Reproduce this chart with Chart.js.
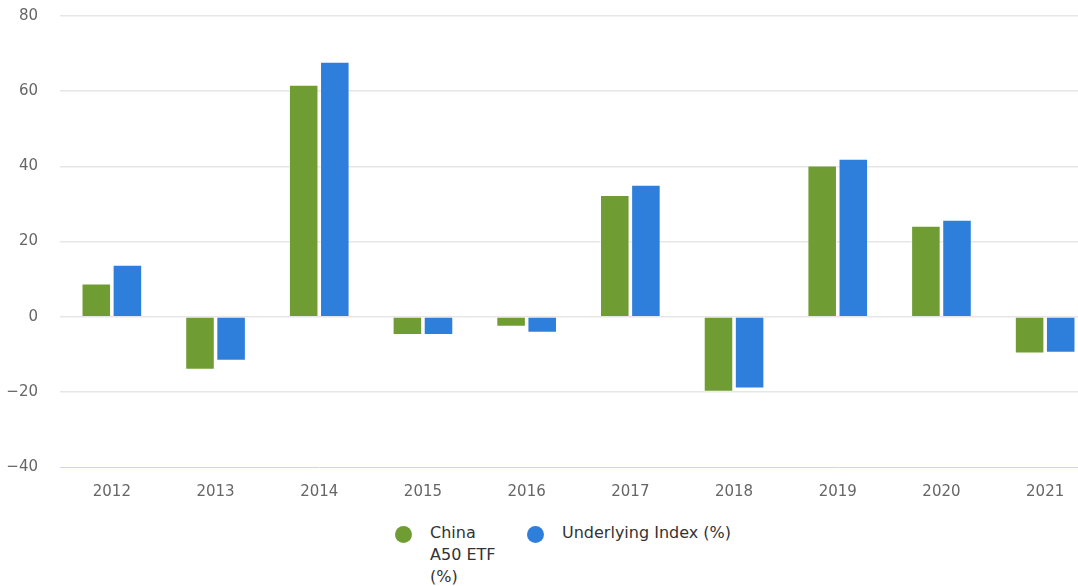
<!DOCTYPE html>
<html>
<head>
<meta charset="utf-8">
<script src="https://cdn.jsdelivr.net/npm/chart.js@4/dist/chart.umd.min.js"></script>
<style>
    html, body { margin: 0; padding: 0; background: #fff; }
    #wrap { position: relative; width: 1078px; height: 586px; overflow: hidden; }
    #myChart { position: absolute; left: 0; top: -15px; }
    #legend { position: absolute; left: 395px; top: 522px; display: flex; font-family: "DejaVu Sans", sans-serif; font-size: 16px; color: #333; }
    .item { display: flex; align-items: flex-start; margin-right: 25px; }
    .dot { width: 17px; height: 17px; border-radius: 50%; margin: 4px 18px 0 0; flex: none; }
    .label { line-height: 22px; }
</style>
</head>
<body>
<div id="wrap">
    <canvas id="myChart" width="1100" height="525"></canvas>
    <div id="legend"></div>
</div>
<script>
// chart values
const years = ['2012', '2013', '2014', '2015', '2016', '2017', '2018', '2019', '2020', '2021'];
const etfReturns = [8.8, -14.1, 61.7, -4.9, -2.7, 32.4, -20.0, 40.2, 24.2, -9.8];
const indexReturns = [13.8, -11.7, 67.8, -4.9, -4.3, 35.1, -19.1, 42.0, 25.8, -9.6];
const yTicks = [-40, -20, 0, 20, 40, 60, 80];

const seriesNames = ['China A50 ETF (%)', 'Underlying Index (%)'];
const seriesColors = ['#6f9d33', '#2e7fdb'];

const ctx = document.getElementById('myChart').getContext('2d');

window.myChartInstance = new Chart(ctx, {
    type: 'bar',
    data: {
        labels: years,
        datasets: [{
            label: seriesNames[0],
            data: etfReturns,
            backgroundColor: seriesColors[0],
            borderColor: 'rgba(255,255,255,0.45)',
            borderWidth: 1,
            categoryPercentage: 0.6,
            barPercentage: 0.95
        }, {
            label: seriesNames[1],
            data: indexReturns,
            backgroundColor: seriesColors[1],
            borderColor: 'rgba(255,255,255,0.45)',
            borderWidth: 1,
            categoryPercentage: 0.6,
            barPercentage: 0.95
        }]
    },
    options: {
        responsive: false,
        animation: false,
        layout: { padding: { top: 0, right: 3, left: 0, bottom: 0 } },
        plugins: {
            legend: { display: false },
            tooltip: { enabled: false }
        },
        scales: {
            x: {
                grid: { display: false },
                border: { display: true, color: '#ccd6eb', width: 1 },
                ticks: {
                    color: '#666',
                    font: { family: 'DejaVu Sans', size: 15 },
                    padding: 8,
                    maxRotation: 0
                },
                afterFit: (scale) => { scale.height = 43; }
            },
            y: {
                min: yTicks[0],
                max: yTicks[yTicks.length - 1],
                afterBuildTicks: (scale) => { scale.ticks = yTicks.map(v => ({ value: v })); },
                grid: {
                    drawTicks: false,
                    color: (c) => (c.tick && c.tick.value === yTicks[0]) ? 'rgba(0,0,0,0)' : '#e6e6e6',
                    lineWidth: 1.5
                },
                border: { display: false },
                ticks: {
                    color: '#666',
                    font: { family: 'DejaVu Sans', size: 15 },
                    padding: 22,
                    callback: (v) => v < 0 ? '\u2212' + Math.abs(v) : String(v)
                },
                afterFit: (scale) => { scale.width = 60; }
            }
        }
    }
});

// html legend, the text of the first entry wraps like the original
const legend = document.getElementById('legend');
const labelWidths = ['72px', 'auto'];
seriesNames.forEach((name, i) => {
    const item = document.createElement('div');
    item.className = 'item';
    item.innerHTML = '<span class="dot" style="background:' + seriesColors[i] + '"></span>' +
        '<span class="label" style="width:' + labelWidths[i] + '">' + name + '</span>';
    legend.appendChild(item);
});
</script>
</body>
</html>
